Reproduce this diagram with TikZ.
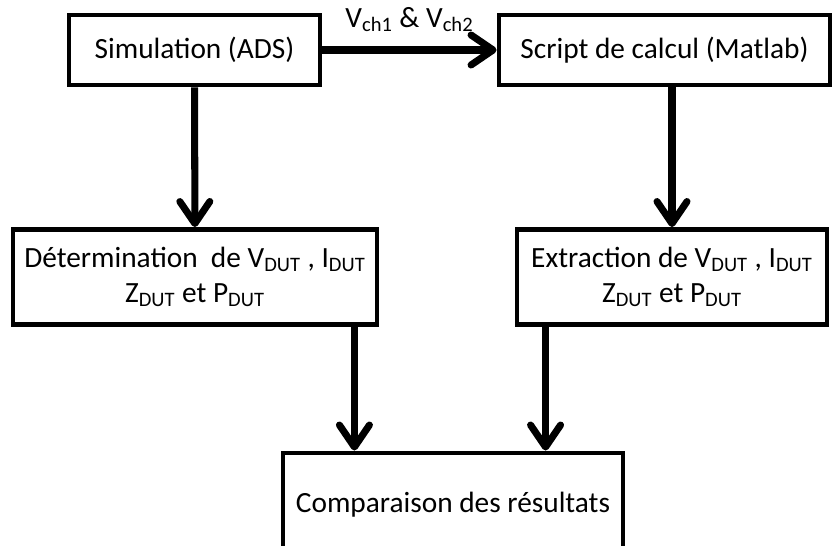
\documentclass[tikz,border=0pt]{standalone}
\usepackage{fontspec}
\setmainfont{Carlito}
\usepackage{tikz}
\usetikzlibrary{positioning,arrows.meta}

\begin{document}
\begin{tikzpicture}[x=0.02cm,y=-0.02cm,
	bloc/.style={draw,line width=2.8pt,align=center,inner sep=2pt},
	fleche/.style={line width=4pt,-{Straight Barb[round,length=0.44cm,width=0.6cm]}},
	font=\fontsize{16.7pt}{20pt}\selectfont]
	\useasboundingbox (0,0) rectangle (833,546);
	\node[bloc,minimum width=5.02cm,minimum height=1.4cm] (sim) at (194.5,50) {Simulation (ADS)};
	\node[bloc,minimum width=6.62cm,minimum height=1.4cm] (script) at (664.5,50) {Script de calcul (Matlab)};
	\node[bloc,minimum width=7.28cm,minimum height=1.9cm] (det) at (195,277)
		{Détermination~ de V\textsubscript{DUT} , I\textsubscript{DUT}\\ Z\textsubscript{DUT} et P\textsubscript{DUT}};
	\node[bloc,minimum width=6.2cm,minimum height=1.9cm] (ext) at (672,277)
		{Extraction de V\textsubscript{DUT} , I\textsubscript{DUT}\\ Z\textsubscript{DUT} et P\textsubscript{DUT}};
	\node[bloc,minimum width=6.8cm,minimum height=2.08cm] (comp) at (453,505) {Comparaison des résultats};

	\draw[fleche] (sim) -- (script) node[midway,above=5pt] {V\textsubscript{ch1} \& V\textsubscript{ch2}};
	\draw[fleche] (sim) -- (det);
	\draw[fleche] (ext |- script.south) -- (ext);
	\draw[fleche] ([xshift=-0.5cm]det.south east) -- ([xshift=-0.5cm]det.south east |- comp.north);
	\draw[fleche] ([xshift=0.62cm]ext.south west) -- ([xshift=0.62cm]ext.south west |- comp.north);
\end{tikzpicture}
\end{document}
